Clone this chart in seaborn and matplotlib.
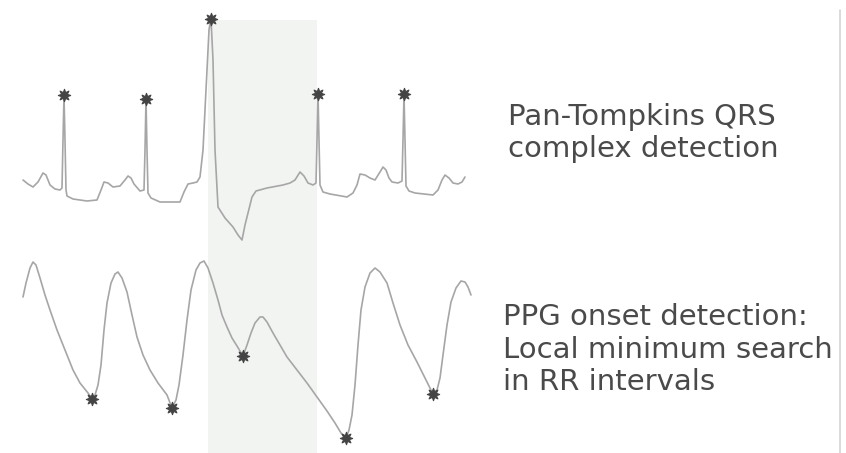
import numpy as np
import pandas as pd
import matplotlib
matplotlib.use("Agg")
import matplotlib.pyplot as plt
import seaborn as sns

sns.set_theme(style="white")
plt.rcParams["font.family"] = ["DejaVu Sans"]

# ECG trace (sample position, amplitude)
ecg_t = [23, 28, 33, 38, 43, 46, 50, 55, 60, 62, 63, 64, 65, 66, 67, 73, 87, 97,
         101, 104, 108, 113, 120, 125, 128, 131, 134, 140, 144, 145, 146, 147, 148,
         151, 160, 180, 184, 188, 193, 197, 200, 203, 206, 209, 211, 213, 215, 218,
         225, 233, 238, 242, 245, 248, 252, 256, 267, 283, 290, 295, 300, 304, 308,
         313, 316, 317, 318, 319, 320, 323, 330, 347, 353, 357, 360, 365, 370, 375,
         380, 383, 386, 389, 392, 398, 402, 403, 404, 405, 406, 409, 415, 433, 438,
         442, 445, 449, 453, 458, 462, 465]
ecg_amp = [273, 269, 266, 271, 280, 278, 268, 264, 263, 265, 313, 358, 313, 263, 257,
           254, 252, 253, 263, 271, 270, 266, 267, 273, 277, 275, 269, 262, 263, 303,
           354, 303, 260, 255, 251, 251, 261, 269, 270, 271, 276, 303, 363, 423, 434,
           393, 303, 246, 235, 226, 218, 213, 228, 240, 256, 262, 265, 268, 270, 273,
           281, 277, 270, 268, 270, 313, 359, 313, 268, 261, 259, 256, 260, 268, 279,
           278, 275, 273, 281, 286, 283, 275, 271, 270, 272, 313, 359, 313, 267, 262,
           260, 258, 263, 273, 278, 275, 270, 269, 271, 276]

# PPG trace (sample position, amplitude)
ppg_t = [23, 26, 30, 33, 36, 40, 45, 50, 57, 65, 73, 80, 88, 92, 95, 98, 101, 104,
         107, 111, 115, 118, 122, 127, 132, 137, 143, 150, 158, 167, 172, 176, 179,
         183, 187, 191, 196, 200, 204, 208, 213, 218, 222, 227, 232, 237, 243, 247,
         251, 255, 260, 263, 267, 273, 280, 287, 297, 307, 317, 327, 335, 341, 346,
         349, 352, 355, 358, 361, 365, 370, 375, 380, 387, 393, 400, 408, 417, 425,
         433, 437, 440, 443, 447, 451, 456, 461, 465, 468, 471]
ppg_amp = [156, 170, 185, 191, 188, 175, 158, 143, 123, 103, 83, 70, 60, 54, 58, 68,
           88, 123, 150, 170, 179, 181, 175, 161, 138, 116, 98, 83, 70, 58, 45, 53,
           68, 98, 133, 163, 183, 190, 192, 185, 170, 153, 138, 126, 115, 107, 97,
           108, 120, 130, 136, 136, 131, 120, 108, 96, 83, 70, 56, 42, 30, 20, 15,
           23, 38, 68, 108, 143, 166, 180, 185, 181, 170, 150, 128, 108, 91, 75, 59,
           63, 75, 98, 128, 151, 165, 172, 171, 166, 158]

# Detected QRS peaks and PPG onsets (sample positions)
qrs_times = [64, 146, 211, 318, 404]
onset_times = [92, 172, 243, 346, 433]

# Highlighted RR interval
rr_window = (208, 317)

ecg_label = "Pan-Tompkins QRS\ncomplex detection"
ppg_label = "PPG onset detection:\nLocal minimum search\nin RR intervals"

qrs_amp = [ecg_amp[ecg_t.index(t)] for t in qrs_times]
onset_amp = [ppg_amp[ppg_t.index(t)] for t in onset_times]

fig = plt.figure(figsize=(8.46, 4.53), dpi=100)
ax = fig.add_axes([0, 0, 1, 1])
ax.set_xlim(0, 846)
ax.set_ylim(0, 453)
ax.set_axis_off()

ax.axvspan(rr_window[0], rr_window[1], ymin=0, ymax=433 / 453,
           color="#f2f4f2", lw=0, zorder=0)

line_color = "#a6a6a6"
sns.lineplot(x=ecg_t, y=ecg_amp, sort=False, estimator=None,
             color=line_color, lw=1.2, ax=ax, zorder=2)
sns.lineplot(x=ppg_t, y=ppg_amp, sort=False, estimator=None,
             color=line_color, lw=1.2, ax=ax, zorder=2)

star_color = "#444444"
sns.scatterplot(x=qrs_times, y=qrs_amp, marker=(8, 1, 0), s=80,
                color=star_color, edgecolor=star_color, linewidth=0.8,
                ax=ax, zorder=5)
sns.scatterplot(x=onset_times, y=onset_amp, marker=(8, 1, 0), s=80,
                color=star_color, edgecolor=star_color, linewidth=0.8,
                ax=ax, zorder=5)

ax.axvline(840, ymin=0, ymax=443 / 453, color="#d4d4d4", lw=1.2)

# va="baseline" anchors the last line of a multi-line label
text_color = "#4a4a4a"
ax.text(508, 296, ecg_label, fontsize=21, color=text_color,
        ha="left", va="baseline")
ax.text(503, 63, ppg_label, fontsize=21, color=text_color,
        ha="left", va="baseline")

fig.savefig("out.png", dpi=100)
